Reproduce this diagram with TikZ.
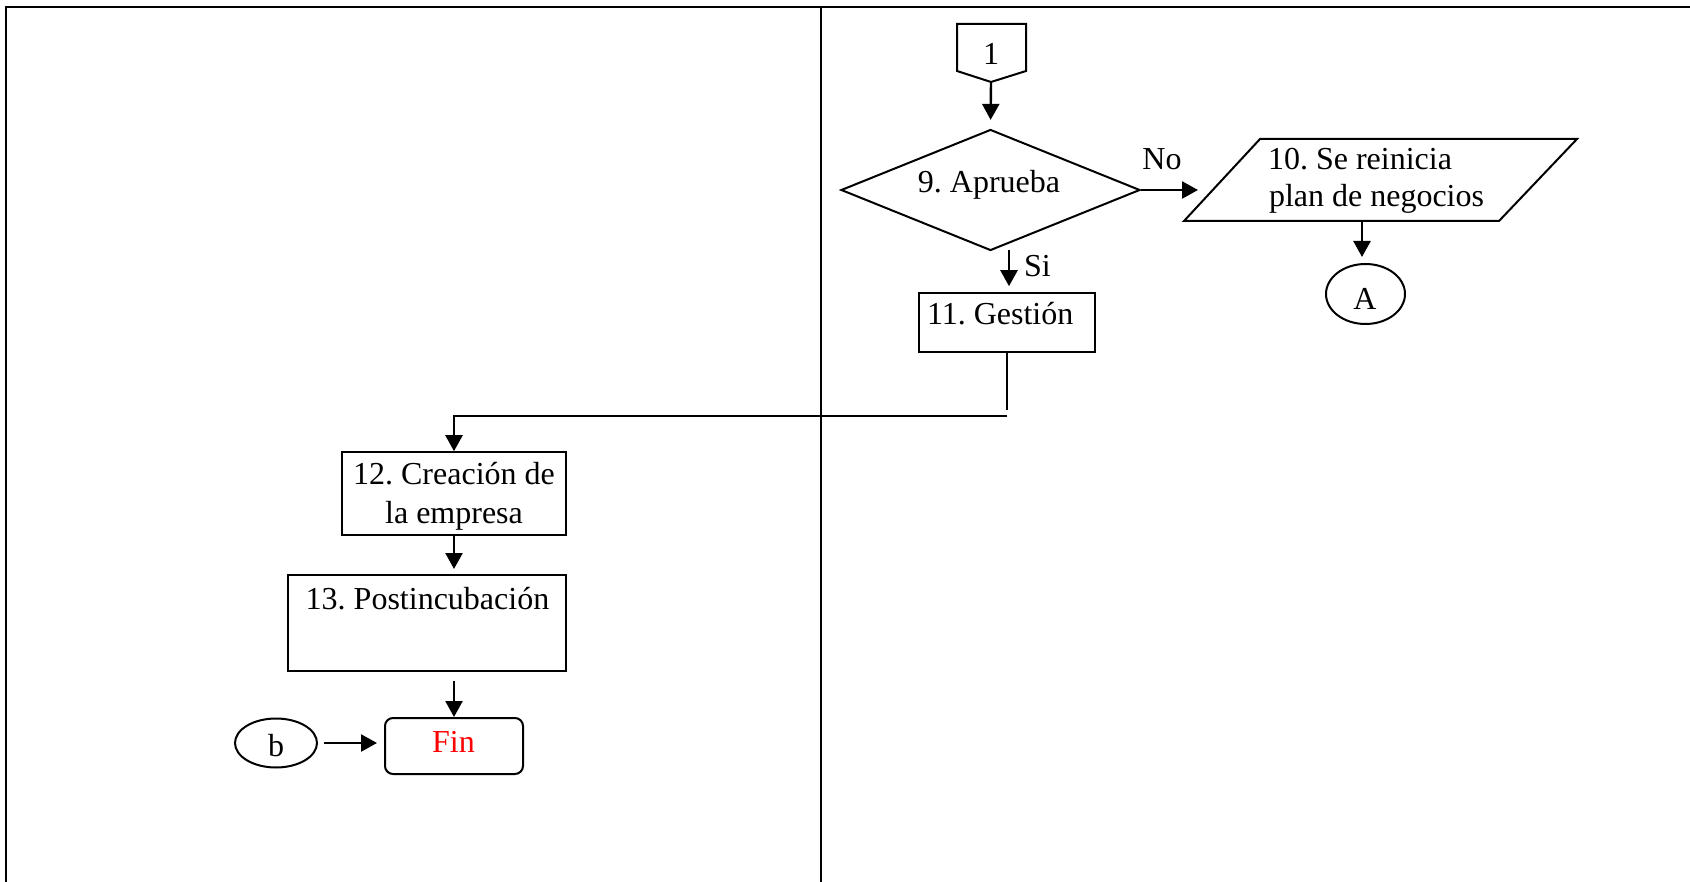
\documentclass[tikz,border=0pt]{standalone}
\usepackage{fontspec}
\setmainfont{Liberation Serif}
\usetikzlibrary{arrows.meta,shapes.geometric,calc}
\begin{document}
\frenchspacing
\begin{tikzpicture}[x=1pt,y=-1pt,line width=2pt,
  txt/.style={font=\fontsize{32}{38}\selectfont,inner sep=0pt,anchor=base},
  ltxt/.style={txt,anchor=base west},
  arr/.style={line width=2.4pt,-{Triangle[length=16pt,width=17pt]}},
  boxnode/.style={draw,rectangle,inner sep=0pt},
  ellnode/.style={draw,ellipse,inner sep=0pt}]
\useasboundingbox (0,0) rectangle (1690,882);
% frame
\draw (6,882) -- (6,7) -- (1690,7);
\draw (821,7) -- (821,882);
% connector 1
\draw (957,24) -- (1026,24) -- (1026,71) -- (991,82) -- (957,71) -- cycle;
\coordinate (pb) at (991,82);
\node[txt] (t1) at (991,65) {1};
% diamond
\node[draw,diamond,inner sep=0pt,minimum width=299pt,minimum height=121pt] (d) at (990.5,190) {};
\node[txt] (t9) at (989,193) {9. Aprueba};
% parallelogram
\draw (1260,139) -- (1577,139) -- (1499,221) -- (1184,221) -- cycle;
\coordinate (pbot) at (1362,221);
\node[ltxt] (t10a) at (1267,170) {10. Se reinicia};
\node[ltxt] (t10b) at (1268,207) {plan de negocios};
% A
\node[ellnode,minimum width=79pt,minimum height=60pt] (A) at (1365.5,294) {};
\node[txt] (tA) at (1365,310) {A};
% 11
\node[boxnode,minimum width=176pt,minimum height=59pt] (g) at (1007,322.2) {};
\node[ltxt] (t11) at (926,325) {11. Gestión};
% 12
\node[boxnode,minimum width=224pt,minimum height=83pt] (c12) at (454,493.7) {};
\node[txt] (t12a) at (454,485) {12. Creación de};
\node[txt] (t12b) at (454,523) {la empresa};
% 13
\node[boxnode,minimum width=278pt,minimum height=96pt] (c13) at (427,623) {};
\node[txt] (t13) at (427.5,609) {13. Postincubación};
% Fin
\node[boxnode,rounded corners=8pt,minimum width=138pt,minimum height=56pt] (fin) at (454,746) {};
\node[txt,text=red] (tfin) at (453.5,752.7) {Fin};
% b
\node[ellnode,minimum width=82pt,minimum height=49pt] (b) at (276,743) {};
\node[txt] (tb) at (276,756) {b};
% labels
\node[txt] (tno) at (1162,170) {No};
\node[txt] (tsi) at (1037.5,277) {Si};
% connectors
\draw[arr,shorten >=8.6pt] (pb) -- (d.north);
\draw[arr,shorten >=14.7pt] (d.east) -- (1212.7,190);
\coordinate (siA) at (1009,250);
\coordinate (siB) at (1009,292.7);
\draw[arr,shorten >=6.5pt] (siA) -- (siB);
\coordinate (gdown) at (1007,410);
\draw (g.south) -- (gdown);
\coordinate (hstart) at (1007,416);
\draw[arr] (hstart) -| (c12.north);
\draw[arr,shorten >=5pt] (c12.south) -- (c12.south |- c13.north);
\coordinate (c13a) at (454,681);
\draw[arr] (c13a) -- (fin.north);
\draw[arr,shorten >=7pt] ($(b.east)+(6,0)$) -- (b.east -| fin.west);
\draw[arr,shorten >=6pt] (pbot) -- (pbot |- A.north);
\end{tikzpicture}
\end{document}
